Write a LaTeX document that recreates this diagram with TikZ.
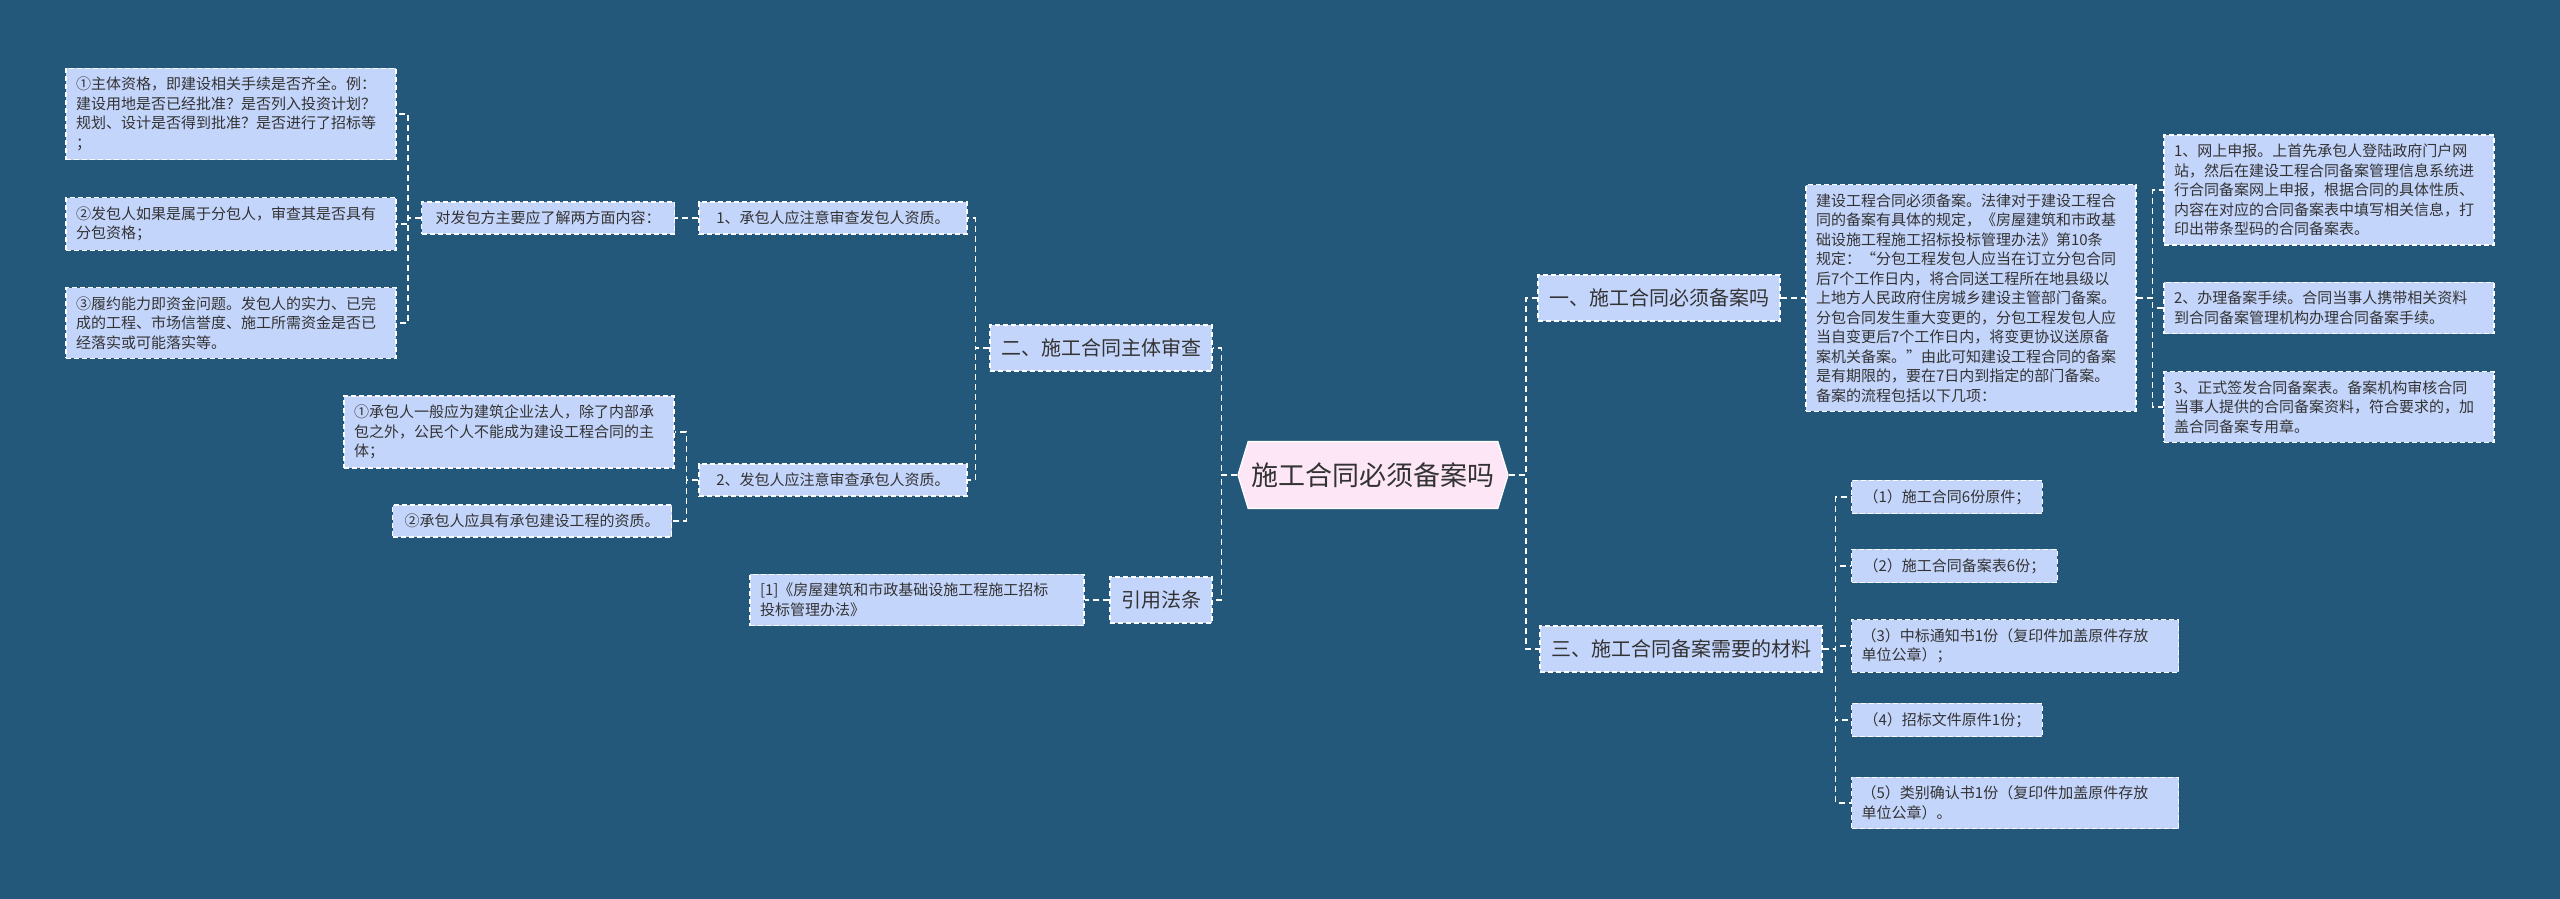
\documentclass[tikz,border=0pt]{standalone}
\usepackage{fontspec}
\setmainfont{Noto Sans CJK SC}
\usepackage{xcolor}
\usepackage{tikz}
\usetikzlibrary{shapes.symbols}
\definecolor{bgblue}{HTML}{23587A}
\definecolor{boxblue}{HTML}{C4D5FB}
\definecolor{rootpink}{HTML}{FDE6F6}
\definecolor{inkgray}{HTML}{333333}
\tikzset{
  link/.style = {draw=white, line width=1.6pt, dash pattern=on 6pt off 4pt},
  card/.style = {draw=white, line width=1.2pt, dash pattern=on 5pt off 3pt,
                 fill=boxblue, text=inkgray, inner xsep=10pt, inner ysep=9pt,
                 font=\fontsize{15}{19.5}\selectfont},
  leaf/.style = {card, text width=310pt, align=left},
  item/.style = {card, inner xsep=12pt, minimum height=31pt},
  topic/.style = {card, inner xsep=11pt, minimum height=46pt,
                  font=\fontsize{20}{24}\selectfont},
  root/.style = {draw=white, line width=1.2pt, fill=rootpink, text=inkgray,
                 shape=signal, signal to=west and east, signal pointer angle=146,
                 minimum width=269pt, minimum height=67pt,
                 font=\fontsize{27}{32}\selectfont}
}

\begin{document}
\begin{tikzpicture}[x=1pt, y=-1pt]
\fill[bgblue] (0,0) rectangle (2560,899);
\useasboundingbox (0,0) rectangle (2560,899);

\node[root] (root) at (1373,475) {施工合同必须备案吗};

% left side
\node[topic] (sub2) at (1101,348) {二、施工合同主体审查};
\node[topic] (law) at (1161,600) {引用法条};
\node[leaf, text width=314pt] (lawtext) at (917,600) {[1]《房屋建筑和市政基础设施工程施工招标\\投标管理办法》};

\node[item, minimum width=268pt] (check1) at (833,218) {1、承包人应注意审查发包人资质。};
\node[item, minimum width=268pt] (check2) at (833,480) {2、发包人应注意审查承包人资质。};
\node[item, minimum width=253pt] (aspects) at (548,218) {对发包方主要应了解两方面内容：};

\node[leaf] (asp1) at (231,114) {①主体资格，即建设相关手续是否齐全。例：\\建设用地是否已经批准？是否列入投资计划？\\规划、设计是否得到批准？是否进行了招标等\\；};
\node[leaf] (asp2) at (231,224) {②发包人如果是属于分包人，审查其是否具有\\分包资格；};
\node[leaf] (asp3) at (231,323) {③履约能力即资金问题。发包人的实力、已完\\成的工程、市场信誉度、施工所需资金是否已\\经落实或可能落实等。};

\node[leaf] (con1) at (509,432) {①承包人一般应为建筑企业法人，除了内部承\\包之外，公民个人不能成为建设工程合同的主\\体；};
\node[item] (con2) at (532,521) {②承包人应具有承包建设工程的资质。};

% right side
\node[topic] (sub1) at (1659,298) {一、施工合同必须备案吗};
\node[topic] (sub3) at (1681,649) {三、施工合同备案需要的材料};
\node[leaf] (rule) at (1971,298) {建设工程合同必须备案。法律对于建设工程合\\同的备案有具体的规定，《房屋建筑和市政基\\础设施工程施工招标投标管理办法》第10条\\规定：“分包工程发包人应当在订立分包合同\\后7个工作日内，将合同送工程所在地县级以\\上地方人民政府住房城乡建设主管部门备案。\\分包合同发生重大变更的，分包工程发包人应\\当自变更后7个工作日内，将变更协议送原备\\案机关备案。”由此可知建设工程合同的备案\\是有期限的，要在7日内到指定的部门备案。\\备案的流程包括以下几项：};

\node[leaf] (step1) at (2329,190) {1、网上申报。上首先承包人登陆政府门户网\\站，然后在建设工程合同备案管理信息系统进\\行合同备案网上申报，根据合同的具体性质、\\内容在对应的合同备案表中填写相关信息，打\\印出带条型码的合同备案表。};
\node[leaf] (step2) at (2329,308) {2、办理备案手续。合同当事人携带相关资料\\到合同备案管理机构办理合同备案手续。};
\node[leaf] (step3) at (2329,407) {3、正式签发合同备案表。备案机构审核合同\\当事人提供的合同备案资料，符合要求的，加\\盖合同备案专用章。};

\node[item, anchor=west] (mat1) at (1851,497) {（1）施工合同6份原件；};
\node[item, anchor=west] (mat2) at (1851,566) {（2）施工合同备案表6份；};
\node[leaf, text width=307pt, anchor=west] (mat3) at (1851,646) {（3）中标通知书1份（复印件加盖原件存放\\单位公章）；};
\node[item, anchor=west] (mat4) at (1851,720) {（4）招标文件原件1份；};
\node[leaf, text width=307pt, anchor=west] (mat5) at (1851,803) {（5）类别确认书1份（复印件加盖原件存放\\单位公章）。};

% connectors
\draw[link] (root.west) -- ++(-16,0) |- (sub2.east);
\draw[link] (root.west) -- ++(-16,0) |- (law.east);
\draw[link] (law.west) -- (lawtext.east);
\draw[link] (sub2.west) -- ++(-14,0) |- (check1.east);
\draw[link] (sub2.west) -- ++(-14,0) |- (check2.east);
\draw[link] (check1.west) -- (aspects.east);
\draw[link] (aspects.west) -- ++(-13,0) |- (asp1.east);
\draw[link] (aspects.west) -- ++(-13,0) |- (asp2.east);
\draw[link] (aspects.west) -- ++(-13,0) |- (asp3.east);
\draw[link] (check2.west) -- ++(-12,0) |- (con1.east);
\draw[link] (check2.west) -- ++(-12,0) |- (con2.east);

\draw[link] (root.east) -- ++(17,0) |- (sub1.west);
\draw[link] (root.east) -- ++(17,0) |- (sub3.west);
\draw[link] (sub1.east) -- (rule.west);
\draw[link] (rule.east) -- ++(16,0) |- (step1.west);
\draw[link] (rule.east) -- ++(16,0) |- (step2.west);
\draw[link] (rule.east) -- ++(16,0) |- (step3.west);
\foreach \m in {mat1,mat2,mat3,mat4,mat5}
  \draw[link] (sub3.east) -- ++(13,0) |- (\m.west);
\end{tikzpicture}
\end{document}
